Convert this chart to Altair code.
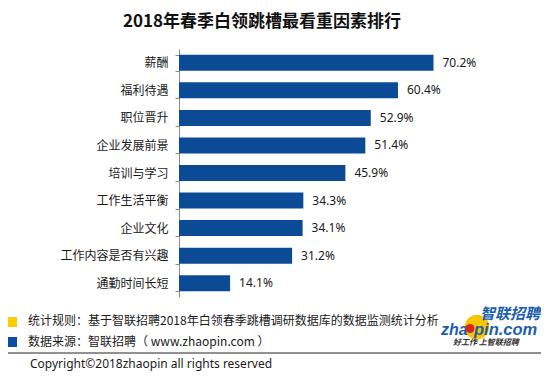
import altair as alt
import pandas as pd

categories = ["薪酬", "福利待遇", "职位晋升", "企业发展前景", "培训与学习",
              "工作生活平衡", "企业文化", "工作内容是否有兴趣", "通勤时间长短"]
values = [70.2, 60.4, 52.9, 51.4, 45.9, 34.3, 34.1, 31.2, 14.1]

title_text = "2018年春季白领跳槽最看重因素排行"
note_rule = "统计规则：基于智联招聘2018年白领春季跳槽调研数据库的数据监测统计分析"
note_source = "数据来源：智联招聘（ www.zhaopin.com ）"
copyright_text = "Copyright©2018zhaopin all rights reserved"
logo_cn = "智联招聘"
logo_left = "zha"
logo_right = "pin.com"
logo_slogan = "好工作   上智联招聘"

CJK = "Noto Sans CJK SC"
BAR = "#0B4A94"

df = pd.DataFrame({"factor": categories, "value": values})

base = alt.Chart(df)

y_enc = alt.Y("factor:N", sort=categories, title=None,
              scale=alt.Scale(paddingInner=0.42, paddingOuter=0.21),
              axis=alt.Axis(domainColor="#8c8c8c", tickColor="#8c8c8c", tickSize=4,
                            tickBand="extent", labelPadding=7, labelFontSize=12,
                            labelFont=CJK, labelColor="#1a1a1a", grid=False))
x_enc = alt.X("value:Q", scale=alt.Scale(domain=[0, 80]), axis=None)

bars = base.mark_bar(color=BAR).encode(x=x_enc, y=y_enc)
labels = base.transform_calculate(
    lbl="format(datum.value, '.1f') + '%'"
).mark_text(align="left", baseline="middle", dx=9, fontSize=12,
            font="Noto Sans", color="#1a1a1a").encode(
    x=x_enc, y=alt.Y("factor:N", sort=categories), text="lbl:N")


def txt(s, x, y, **kw):
    return alt.Chart(pd.DataFrame({"t": [s]})).mark_text(**kw).encode(
        x=alt.value(x), y=alt.value(y), text="t:N")


def dot(x, y, **kw):
    return alt.Chart(pd.DataFrame({"t": [0]})).mark_point(**kw).encode(
        x=alt.value(x), y=alt.value(y))


title = txt(title_text, 83, -27, fontSize=17, fontWeight="bold", font=CJK,
            color="#111111", align="center", baseline="middle")

sq1 = dot(-167, 273, shape="square", size=100, filled=True, color="#FFCC00", opacity=1)
sq2 = dot(-167, 293, shape="square", size=100, filled=True, color="#0A4EA2", opacity=1)
t1 = txt(note_rule, -151, 272, fontSize=12, font=CJK, color="#1a1a1a",
         align="left", baseline="middle")
t2 = txt(note_source, -151, 293, fontSize=12, font=CJK, color="#1a1a1a",
         align="left", baseline="middle")
sep = alt.Chart(pd.DataFrame({"t": [0]})).mark_rule(color="#222222", strokeWidth=1).encode(
    x=alt.value(-171), x2=alt.value(364), y=alt.value(304))
cp = txt(copyright_text, -149, 314.5, fontSize=12, font="Noto Sans", color="#1a1a1a",
         align="left", baseline="middle")

# logo
ycirc = dot(298, 278, shape="circle", size=600, filled=True, color="#F7C600", opacity=1)
lcn = txt(logo_cn, 301, 264.5, fontSize=15, fontWeight="bold", fontStyle="italic",
          font=CJK, color="#1B5FAE", align="left", baseline="middle")
lz = txt(logo_left, 262, 280.5, fontSize=16, fontWeight="bold", fontStyle="italic",
         font="Liberation Sans", color="#1B5FAE", align="left", baseline="middle")
rdot = dot(291, 279.5, shape="circle", size=80, filled=True, color="#D9261C", opacity=1)
lp = txt(logo_right, 295, 280.5, fontSize=16.5, fontWeight="bold", fontStyle="italic",
         font="Liberation Sans", color="#1B5FAE", align="left", baseline="middle")
slog = txt(logo_slogan, 274, 294, fontSize=8, fontWeight="bold", fontStyle="italic",
           font=CJK, color="#333333", align="left", baseline="middle")

chart = alt.layer(
    bars, labels, title, sq1, sq2, t1, t2, sep, cp, ycirc, lcn, lz, rdot, lp, slog
).properties(
    width=290, height=248,
    autosize=alt.AutoSizeParams(type="none"),
    padding={"left": 171, "top": 41, "right": 72, "bottom": 77},
).configure_view(stroke=None)

chart.save("out.html", embed_options={"renderer": "svg", "actions": False})
